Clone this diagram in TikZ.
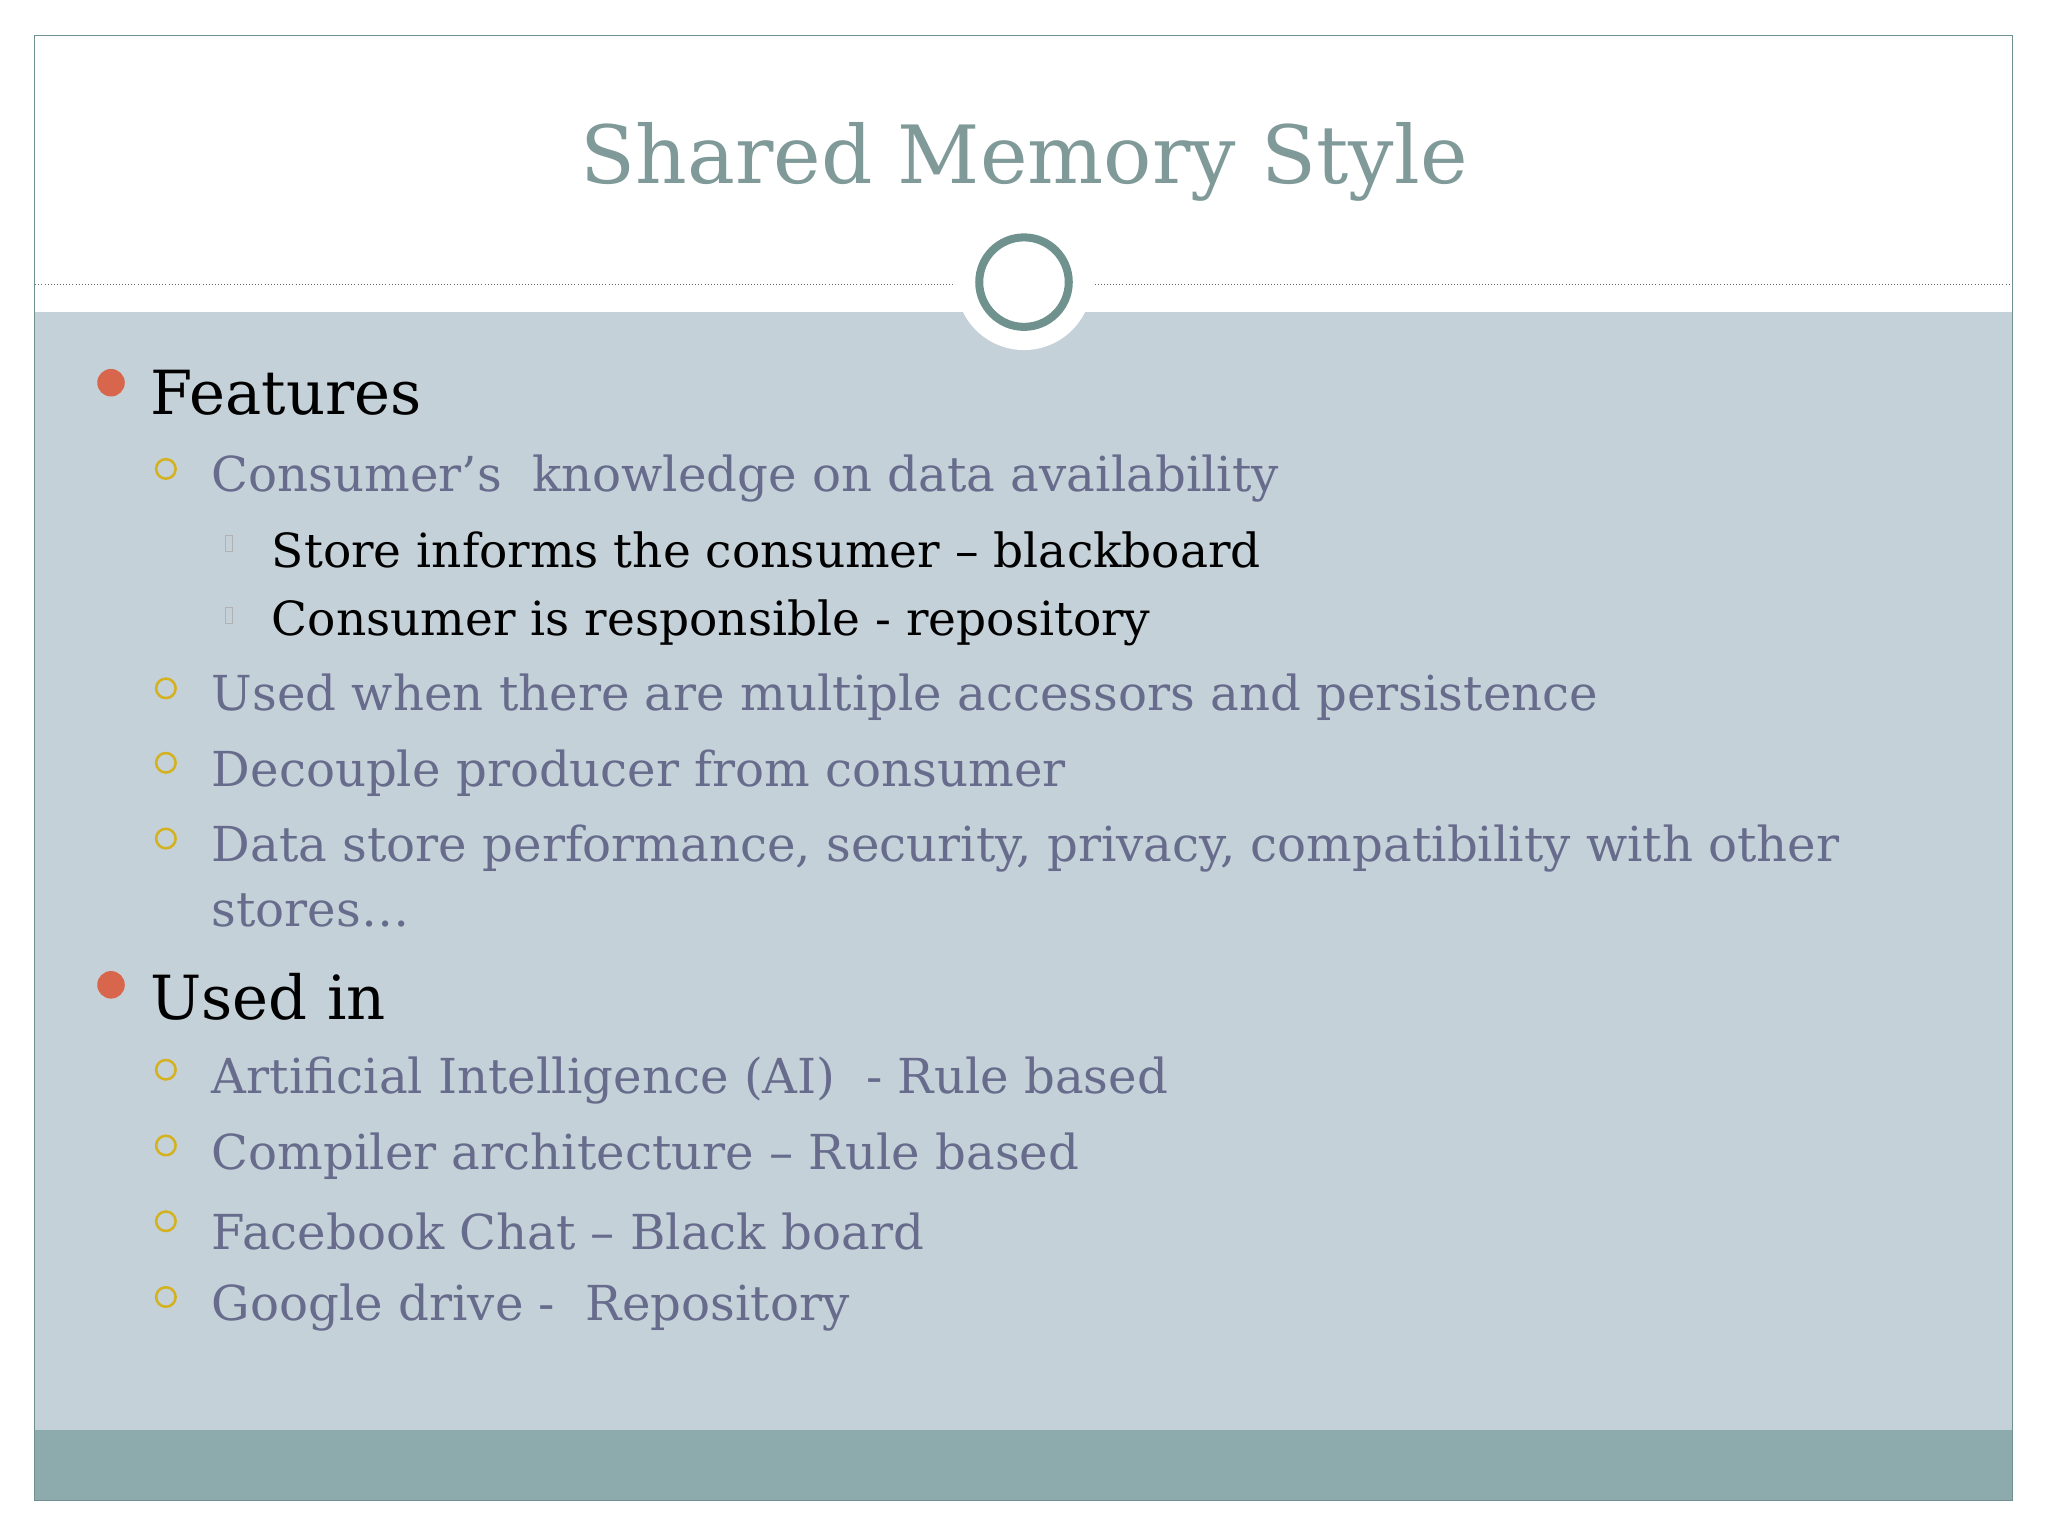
\documentclass[tikz,border=0pt]{standalone}
\usepackage{fontspec}
\setmainfont{DejaVu Serif}
\begin{document}
\begin{tikzpicture}[x=0.4mm,y=-0.4mm,
  lone/.style={anchor=west,inner sep=0pt,text=black,font=\fontsize{53}{56}\selectfont},
  ltwo/.style={anchor=west,inner sep=0pt,text=txtb,font=\fontsize{42}{46}\selectfont},
  lthree/.style={anchor=west,inner sep=0pt,text=black,font=\fontsize{41}{44}\selectfont},
  obul/.style={circle,fill=bulo,inner sep=0pt,minimum size=24},
  ybul/.style={circle,draw=buly,line width=2.2,inner sep=0pt,minimum size=17},
  sbul/.style={draw=gray!60,line width=0.6,inner sep=0pt,minimum width=6,minimum height=14}]
\definecolor{bodyc}{HTML}{C5D1D8}
\definecolor{barc}{HTML}{8DAAAD}
\definecolor{ringc}{HTML}{6F928E}
\definecolor{titc}{HTML}{7F9A98}
\definecolor{txtb}{HTML}{676C8C}
\definecolor{bulo}{HTML}{D8664C}
\definecolor{buly}{HTML}{D4B11F}
\useasboundingbox (0,0) rectangle (1568,1176);
\fill[white] (0,0) rectangle (1568,1176);
\fill[bodyc] (26,239) rectangle (1541,1095);
\fill[barc] (26,1095) rectangle (1541,1149);
\draw[ringc,line width=0.8] (26,27) rectangle (1541,1149);
\draw[gray!80!black,dotted,line width=0.7] (27,218) -- (730,218);
\draw[gray!80!black,dotted,line width=0.7] (838,218) -- (1540,218);
\fill[white] (784,216) circle (52);
\node[circle,draw=ringc,line width=7,minimum size=78,inner sep=0pt] (ring) at (784,216) {};
\node[text=titc,inner sep=0pt,font=\fontsize{70}{74}\selectfont] (title) at (784,124) {Shared Memory Style};
\node[obul] (b1) at (85,293) {};
\node[lone] (t1) at (115,301) {Features};
\node[ybul] (y1) at (127,359) {};
\node[ltwo] (t2) at (162,366) {Consumer’s\ \ knowledge on data availability};
\node[sbul] (s1) at (175,416) {};
\node[lthree] (t3) at (208,421) {Store informs the consumer – blackboard};
\node[sbul] (s2) at (175,471) {};
\node[lthree] (t4) at (208,477) {Consumer is responsible - repository};
\node[ybul] (y2) at (127,527) {};
\node[ltwo] (t5) at (162,534) {Used when there are multiple accessors and persistence};
\node[ybul] (y3) at (127,584) {};
\node[ltwo] (t6) at (162,592) {Decouple producer from consumer};
\node[ybul] (y4) at (127,642) {};
\node[ltwo] (t7) at (162,650) {Data store performance, security, privacy, compatibility with other};
\node[ltwo] (t8) at (162,697) {stores…};
\node[obul] (b2) at (85,754) {};
\node[lone] (t9) at (115,763) {Used in};
\node[ybul] (y5) at (127,819) {};
\node[ltwo] (t10) at (162,827) {Artificial Intelligence (AI)\ \ - Rule based};
\node[ybul] (y6) at (127,877) {};
\node[ltwo] (t11) at (162,885) {Compiler architecture – Rule based};
\node[ybul] (y7) at (127,935) {};
\node[ltwo] (t12) at (162,943) {Facebook Chat – Black board};
\node[ybul] (y8) at (127,993) {};
\node[ltwo] (t13) at (162,1001) {Google drive -\ \ Repository};
\end{tikzpicture}
\end{document}
